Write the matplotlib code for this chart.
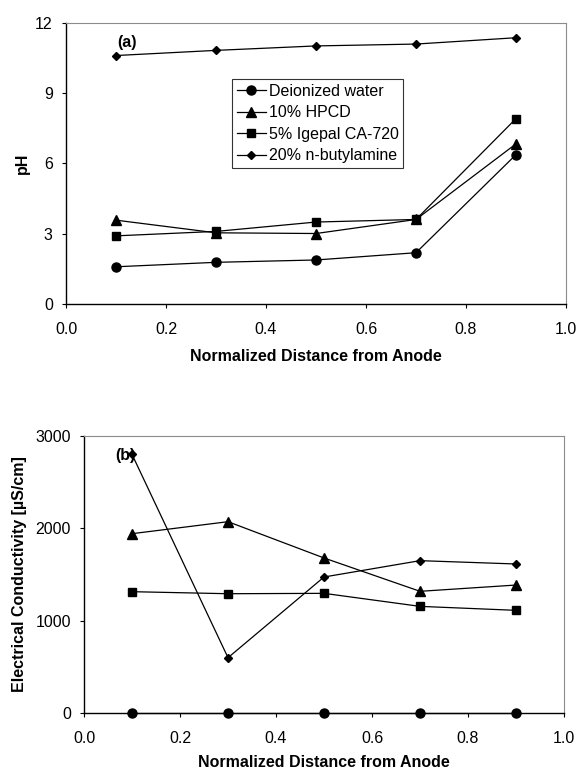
import numpy as np
import matplotlib.pyplot as plt

plt.rcParams['font.family'] = ['Liberation Sans', 'DejaVu Sans']

distance = [0.1, 0.3, 0.5, 0.7, 0.9]
series = ["Deionized water", "10% HPCD", "5% Igepal CA-720", "20% n-butylamine"]

ph_water = [1.59, 1.78, 1.88, 2.19, 6.38]
ph_hpcd = [3.58, 3.04, 3.01, 3.61, 6.84]
ph_igepal = [2.91, 3.10, 3.50, 3.61, 7.92]
ph_butyl = [10.61, 10.83, 11.02, 11.10, 11.37]

ec_water = [0, 0, 0, 0, 0]
ec_hpcd = [1942, 2072, 1679, 1318, 1386]
ec_igepal = [1314, 1292, 1296, 1155, 1112]
ec_butyl = [2801, 599, 1473, 1650, 1614]

markers = ['o', '^', 's', 'D']
msizes = [6.5, 6.5, 6, 4.2]
fs = 11.5

fig = plt.figure(figsize=(5.77, 7.71), dpi=100)
ax1 = fig.add_axes([0.1144, 0.6057, 0.8666, 0.3645])
ax2 = fig.add_axes([0.1456, 0.0752, 0.8319, 0.3593])


def style(ax, xpad):
    ax.set_xlim(0, 1.0)
    ax.set_xticks(np.arange(0, 1.01, 0.2))
    ax.set_xticklabels(["%.1f" % t for t in np.arange(0, 1.01, 0.2)])
    for s in ['top', 'right']:
        ax.spines[s].set_color('#8c8c8c')
    for s in ['left', 'bottom']:
        ax.spines[s].set_linewidth(1.0)
    ax.tick_params(which='both', direction='out', length=3, width=0.8,
                   labelsize=fs, top=False, right=False)
    ax.tick_params(axis='x', pad=10)
    ax.tick_params(axis='y', pad=6.5)
    ax.set_xlabel('Normalized Distance from Anode', fontweight='bold',
                  fontsize=fs, labelpad=xpad)


for y, m, ms, lab in zip([ph_water, ph_hpcd, ph_igepal, ph_butyl], markers, msizes, series):
    ax1.plot(distance, y, color='black', lw=0.9, marker=m, ms=ms, label=lab)
style(ax1, 8.5)
ax1.set_ylim(0, 12)
ax1.set_yticks([0, 3, 6, 9, 12])
ax1.set_ylabel('pH', fontweight='bold', fontsize=fs, labelpad=4)
ax1.text(0.102, 11.15, '(a)', fontweight='bold', fontsize=fs, ha='left', va='center')
leg = ax1.legend(loc='upper left', bbox_to_anchor=(0.332, 0.80), fontsize=fs,
                 frameon=True, fancybox=False, edgecolor='black', handlelength=1.8,
                 handletextpad=0.2, borderpad=0.3, labelspacing=0.4,
                 borderaxespad=0)
leg.get_frame().set_linewidth(0.8)

for y, m, ms in zip([ec_water, ec_hpcd, ec_igepal, ec_butyl], markers, msizes):
    ax2.plot(distance, y, color='black', lw=0.9, marker=m, ms=ms, clip_on=False)
style(ax2, 6.5)
ax2.set_ylim(0, 3000)
ax2.set_yticks([0, 1000, 2000, 3000])
ax2.set_ylabel('Electrical Conductivity [µS/cm]', fontweight='bold', fontsize=fs,
               labelpad=6)
ax2.text(0.065, 2794, '(b)', fontweight='bold', fontsize=fs, ha='left', va='center')

fig.savefig('out.png', dpi=100)
